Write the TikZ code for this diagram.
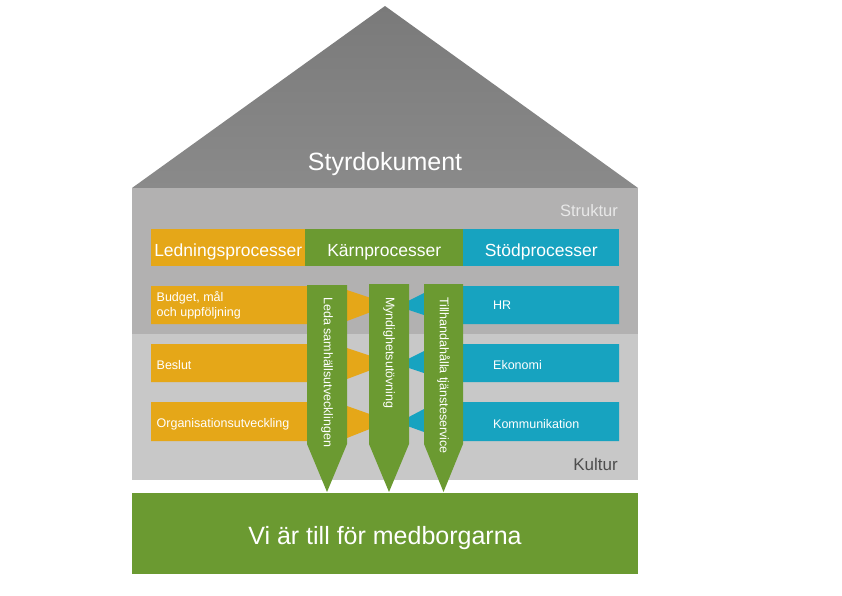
\documentclass[tikz,border=0pt]{standalone}
\usepackage{fontspec}
\setmainfont{Liberation Sans}
\definecolor{roofTop}{HTML}{7A7A7A}
\definecolor{roofBot}{HTML}{8A8A8A}
\definecolor{upperGray}{HTML}{B2B1B1}
\definecolor{lowerGray}{HTML}{C8C8C8}
\definecolor{procOrange}{HTML}{E5A718}
\definecolor{procGreen}{HTML}{6B9A31}
\definecolor{procBlue}{HTML}{17A3C0}
\definecolor{strukturText}{HTML}{E8E8E8}
\definecolor{kulturText}{HTML}{4D4D4D}
\tikzset{
  hdrbox/.style={inner sep=0pt, minimum height=37pt, anchor=north west, text=white,
    text height=17pt, text depth=0pt,
    font=\fontsize{17.5}{20}\selectfont},
  smalllab/.style={inner sep=0pt, anchor=west, text=white, align=left,
    font=\fontsize{12.5}{15.5}\selectfont},
  vlab/.style={inner sep=0pt, anchor=west, rotate=-90, text=white,
    font=\fontsize{12.5}{15}\selectfont},
  biglab/.style={inner sep=0pt, text=white, font=\fontsize{25}{30}\selectfont},
  corearrow/.style={fill=procGreen},
}
\begin{document}
\begin{tikzpicture}[x=1pt,y=-1pt]
\useasboundingbox (0,0) rectangle (842,595);
\fill[white] (0,0) rectangle (842,595);
% roof
\shade[top color=roofTop,bottom color=roofBot] (385,6) -- (638,188) -- (132,188) -- cycle;
\node[biglab] (styr) at (385,164.5) {Styrdokument};
% body
\fill[upperGray] (132,188) rectangle (638,334);
\fill[lowerGray] (132,334) rectangle (638,480);
\node[inner sep=0pt, anchor=east, text=strukturText, font=\fontsize{16.5}{19}\selectfont] (struktur) at (618,211) {Struktur};
\node[inner sep=0pt, anchor=east, text=kulturText, font=\fontsize{17}{20}\selectfont] (kultur) at (618,464) {Kultur};
% header bar
\node[hdrbox, fill=procOrange, minimum width=154pt] (led) at (151,229) {Ledningsprocesser};
\node[hdrbox, fill=procGreen, minimum width=158pt] (karn) at (305,229) {Kärnprocesser};
\node[hdrbox, fill=procBlue, minimum width=156pt] (stod) at (463,229) {Stödprocesser};
% rows
\foreach \t/\b in {286/324, 344/382, 402/441}{
  \pgfmathsetmacro{\m}{(\t+\b)/2}
  \fill[procOrange] (151,\t) -- (340,\t) -- (340,\t+4) -- (347,\t+4) -- (371,\m-7)
     -- (371,\m+7) -- (347,\b-3) -- (340,\b-3) -- (340,\b) -- (151,\b) -- cycle;
  \fill[procBlue] (619,\t) -- (430,\t) -- (430,\t+7) -- (424,\t+7) -- (406,\m-3)
     -- (406,\m+4) -- (424,\b-9) -- (430,\b-9) -- (430,\b) -- (619,\b) -- cycle;
}
\node[smalllab] (budget) at (156.5,305) {Budget, mål\\och uppföljning};
\node[smalllab] (beslut) at (156.5,365) {Beslut};
\node[smalllab] (org) at (156.5,424) {Organisationsutveckling};
\node[smalllab] (hr) at (493,305.5) {HR};
\node[smalllab] (eko) at (493,365) {Ekonomi};
\node[smalllab] (komm) at (493,424) {Kommunikation};
% core process arrows
\fill[corearrow] (307,285) -- (347,285) -- (347,444) -- (327,492) -- (307,444) -- cycle;
\fill[corearrow] (369,284) -- (409,284) -- (409,444) -- (389,492) -- (369,444) -- cycle;
\fill[corearrow] (424,284) -- (463,284) -- (463,444) -- (443.5,492) -- (424,444) -- cycle;
\node[vlab] (leda) at (327,297) {Leda samhällsutvecklingen};
\node[vlab] (mynd) at (389,297) {Myndighetsutövning};
\node[vlab] (till) at (443.5,297) {Tillhandahålla tjänsteservice};
% foundation
\node[fill=procGreen, inner sep=0pt, minimum width=506pt, minimum height=81pt, anchor=north west] (base) at (132,493) {};
\node[biglab] (vi) at (385,538) {Vi är till för medborgarna};
\end{tikzpicture}
\end{document}
